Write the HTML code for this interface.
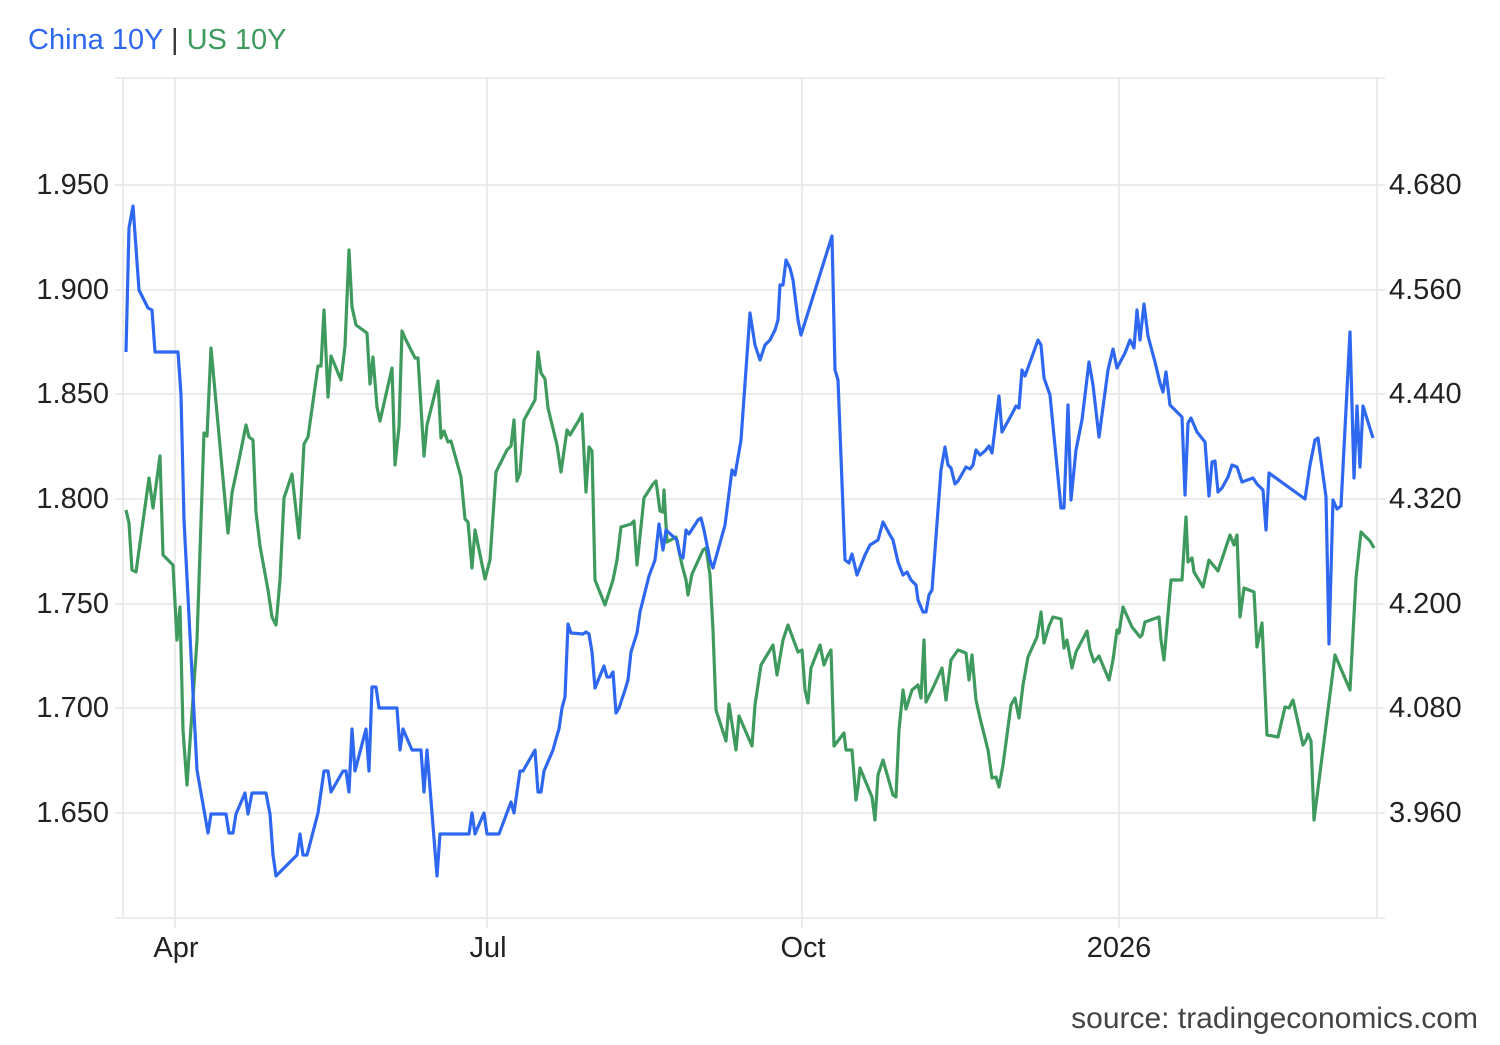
<!DOCTYPE html>
<html><head><meta charset="utf-8"><style>
html,body{margin:0;padding:0;background:#fff;}
body{width:1500px;height:1040px;overflow:hidden;font-family:"Liberation Sans",Arial,sans-serif;}
</style></head><body>
<svg width="1500" height="1040" viewBox="0 0 1500 1040" xmlns="http://www.w3.org/2000/svg" font-family="Liberation Sans, Arial, sans-serif">
<rect width="1500" height="1040" fill="#fff"/>
<text x="28" y="49" font-size="29" fill="#2f68f0">China 10Y <tspan fill="#333">|</tspan> <tspan fill="#3f9a5e">US 10Y</tspan></text>
<g stroke="#e6e6e6" stroke-width="1.5" fill="none">
<line x1="115" y1="78" x2="1385" y2="78"/>
<line x1="115" y1="185" x2="1385" y2="185"/>
<line x1="115" y1="290" x2="1385" y2="290"/>
<line x1="115" y1="394" x2="1385" y2="394"/>
<line x1="115" y1="499" x2="1385" y2="499"/>
<line x1="115" y1="604" x2="1385" y2="604"/>
<line x1="115" y1="708" x2="1385" y2="708"/>
<line x1="115" y1="813" x2="1385" y2="813"/>
<line x1="115" y1="918" x2="1385" y2="918"/>
<line x1="123" y1="78" x2="123" y2="918"/>
<line x1="175" y1="78" x2="175" y2="928"/>
<line x1="487" y1="78" x2="487" y2="928"/>
<line x1="802" y1="78" x2="802" y2="928"/>
<line x1="1119" y1="78" x2="1119" y2="928"/>
<line x1="1377" y1="78" x2="1377" y2="918"/>
</g>
<g font-size="29" fill="#222">
<text x="109" y="194" text-anchor="end">1.950</text>
<text x="109" y="299" text-anchor="end">1.900</text>
<text x="109" y="403" text-anchor="end">1.850</text>
<text x="109" y="508" text-anchor="end">1.800</text>
<text x="109" y="613" text-anchor="end">1.750</text>
<text x="109" y="717" text-anchor="end">1.700</text>
<text x="109" y="822" text-anchor="end">1.650</text>
<text x="1389" y="194">4.680</text>
<text x="1389" y="299">4.560</text>
<text x="1389" y="403">4.440</text>
<text x="1389" y="508">4.320</text>
<text x="1389" y="613">4.200</text>
<text x="1389" y="717">4.080</text>
<text x="1389" y="822">3.960</text>
<text x="176" y="957" text-anchor="middle">Apr</text>
<text x="488" y="957" text-anchor="middle">Jul</text>
<text x="803" y="957" text-anchor="middle">Oct</text>
<text x="1119" y="957" text-anchor="middle">2026</text>
</g>
<text x="1478" y="1028" font-size="30" fill="#444" text-anchor="end">source: tradingeconomics.com</text>
<polyline fill="none" stroke="#3f9a5e" stroke-width="3.2" stroke-linejoin="round" points="126,510 129,523 132,570 136,572 149,478 153,508 160,456 163,555 173,565 177,640 180,607 183,730 187,785 197,640 204,433 207,436 211,348 228,533 232,493 240,455 246,425 249,437 253,440 256,512 260,546 268,590 272,617 276,625 280,580 284,498 292,474 299,538 304,444 308,437 318,366 321,366 324,310 328,397 331,356 341,380 345,346 349,250 352,307 356,325 367,333 370,384 373,357 377,407 380,421 392,368 395,465 399,427 402,331 405,338 415,358 418,358 424,456 427,425 438,381 441,438 444,431 448,442 451,441 461,477 465,519 468,522 472,568 475,530 485,579 490,560 496,472 507,450 511,446 514,420 517,481 520,473 524,420 535,400 538,352 541,373 545,379 548,408 557,445 561,472 567,430 570,435 579,420 582,414 586,492 589,447 592,451 595,580 605,605 613,580 617,560 621,527 631,524 634,521 637,565 644,498 653,484 656,481 660,511 663,512 664,490 667,542 676,537 682,565 686,580 688,595 692,574 703,550 706,548 710,575 713,630 716,710 726,741 729,704 736,750 739,716 752,746 755,705 761,665 773,645 777,675 783,640 788,625 798,652 802,650 805,690 808,703 811,668 820,645 824,665 828,655 831,650 834,746 844,733 846,750 852,750 856,800 858,787 860,768 872,797 875,820 878,775 883,760 893,795 896,797 899,730 903,690 906,709 912,690 918,685 921,698 924,640 926,702 932,690 942,668 946,700 951,660 958,650 966,653 969,680 972,655 976,700 980,718 988,750 992,778 996,777 999,787 1003,765 1011,705 1015,698 1019,718 1023,685 1028,657 1037,637 1041,612 1044,643 1049,626 1053,617 1061,619 1064,648 1067,640 1072,668 1076,652 1087,631 1090,650 1094,662 1099,656 1109,680 1113,660 1117,630 1119,633 1123,607 1132,627 1136,632 1140,637 1142,635 1145,622 1159,617 1161,640 1164,660 1171,580 1182,580 1186,517 1188,562 1192,558 1194,572 1203,587 1209,560 1218,571 1230,535 1234,545 1237,535 1240,617 1244,588 1254,592 1257,647 1262,623 1267,735 1278,737 1285,707 1289,708 1293,700 1303,745 1306,740 1308,734 1311,741 1314,820 1335,655 1350,690 1356,578 1361,532 1370,541 1374,548"/>
<polyline fill="none" stroke="#2f68f0" stroke-width="3.2" stroke-linejoin="round" points="126,352 129,228 133,206 139,290 148,308 152,310 155,352 178,352 181,395 184,520 197,770 208,833 211,814 226,814 229,833 233,833 236,814 245,793 248,814 252,793 266,793 270,814 273,855 276,876 297,855 300,834 303,855 307,855 318,813 324,771 328,771 331,792 343,771 346,771 349,792 352,729 355,771 366,729 369,771 372,687 376,687 379,708 397,708 400,750 403,729 412,750 421,750 424,792 427,750 437,876 440,834 469,834 472,813 475,834 484,813 487,834 499,834 511,802 514,813 517,792 520,771 523,771 535,750 538,792 541,792 544,771 553,750 556,739 559,729 562,708 565,697 568,624 571,633 583,634 586,632 589,634 592,652 595,688 604,666 607,677 610,677 613,672 616,713 619,708 625,690 628,680 631,652 637,633 640,612 649,576 655,560 659,524 663,550 666,530 677,540 680,555 683,558 686,530 689,534 698,520 701,518 704,530 710,560 713,568 725,525 732,470 735,475 741,440 750,313 755,345 760,360 765,345 770,340 775,330 778,320 780,285 783,285 786,260 790,268 793,280 798,320 801,335 832,236 835,370 838,380 845,560 849,563 852,554 857,575 865,555 870,545 878,540 883,522 890,535 893,540 898,562 903,575 907,572 911,580 916,585 918,600 923,612 926,612 929,595 932,590 941,470 945,447 948,465 951,468 955,484 958,481 966,467 970,469 973,465 976,450 980,455 985,451 989,446 992,453 999,396 1002,432 1013,412 1016,406 1019,408 1022,370 1025,376 1029,365 1038,340 1041,345 1044,378 1050,395 1061,508 1064,508 1068,405 1071,500 1076,450 1082,420 1089,362 1093,385 1099,437 1108,370 1113,349 1117,368 1125,353 1130,340 1134,348 1137,310 1140,340 1144,304 1148,336 1155,362 1160,383 1163,392 1166,372 1170,405 1182,417 1185,495 1188,423 1191,418 1197,432 1205,442 1209,496 1212,462 1215,461 1218,492 1222,488 1228,477 1232,465 1237,467 1242,482 1253,478 1257,484 1263,490 1266,530 1269,473 1305,499 1310,465 1315,440 1318,438 1326,497 1329,644 1333,500 1337,509 1341,506 1350,332 1354,478 1357,406 1360,467 1363,406 1373,438"/>
</svg>
</body></html>
